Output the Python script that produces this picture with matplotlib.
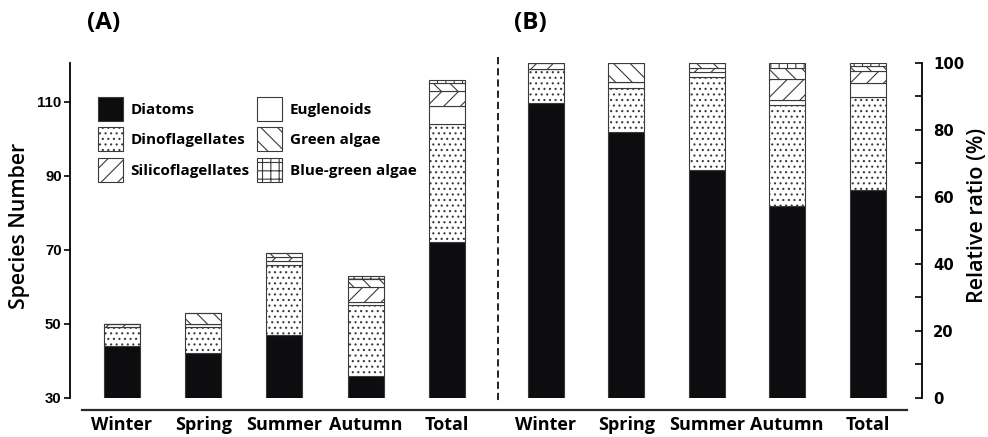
import matplotlib
matplotlib.use('Agg')
import matplotlib.pyplot as plt
import numpy as np
from matplotlib.patches import Patch
from matplotlib.lines import Line2D

# species counts per season (stacked from the bottom up)
seasons = ['Winter', 'Spring', 'Summer', 'Autumn', 'Total']
diatoms = [44, 42, 47, 36, 72]
dinoflagellates = [5, 7, 19, 19, 32]
euglenoids = [0, 1, 1, 1, 5]
silicoflagellates = [1, 0, 1, 4, 4]
green_algae = [0, 3, 1, 2, 2]
blue_green_algae = [0, 0, 0, 1, 1]

counts = np.array([diatoms, dinoflagellates, euglenoids,
                   silicoflagellates, green_algae, blue_green_algae], dtype=float)
names = ['Diatoms', 'Dinoflagellates', 'Euglenoids',
         'Silicoflagellates', 'Green algae', 'Blue-green algae']
faces = ['#0d0d10', 'white', 'white', 'white', 'white', 'white']
hatches = [None, '...', None, '//', '\\\\', '++']

ratio = counts / counts.sum(axis=0) * 100

W, H = 988, 437
plt.rcParams['hatch.linewidth'] = 0.8
TXT = 'Open Sans'

fig = plt.figure(figsize=(W / 100, H / 100), dpi=100)


def box(x0, y0, x1, y1):
    return [x0 / W, 1 - y1 / H, (x1 - x0) / W, (y1 - y0) / H]


def stack(ax, data, width):
    x = np.arange(len(seasons))
    bottom = np.zeros(len(seasons))
    for vals, face, hatch in zip(data, faces, hatches):
        ax.bar(x, vals, width, bottom=bottom, color=face, hatch=hatch,
               edgecolor='#3a3a3a', linewidth=0.8)
        bottom += vals
    ax.set_xticks(x, seasons)
    ax.tick_params(axis='x', length=0, pad=13)
    for lab in ax.get_xticklabels():
        lab.set_fontfamily(TXT)
        lab.set_fontweight('bold')
        lab.set_fontsize(13)
    for s in ['top', 'bottom']:
        ax.spines[s].set_visible(False)


# (A) species number
ax1 = fig.add_axes(box(70, 63, 498, 397.7))
stack(ax1, counts, 0.443)
ax1.set_xlim(-0.64, 4.63)
ax1.set_ylim(30, 120.5)
ax1.spines['right'].set_visible(False)
ax1.spines['left'].set_linewidth(1.3)
ax1.set_yticks([30, 50, 70, 90, 110])
ax1.tick_params(axis='y', direction='out', length=4, width=1.2, pad=2)
for lab in ax1.get_yticklabels():
    lab.set_fontfamily('Liberation Sans')
    lab.set_fontweight('bold')
    lab.set_fontsize(10.8)

# (B) relative ratio
ax2 = fig.add_axes(box(498, 62.7, 922, 397.7))
stack(ax2, ratio, 0.448)
ax2.set_xlim(-0.597, 4.677)
ax2.set_ylim(0, 100)
ax2.spines['left'].set_visible(False)
ax2.spines['right'].set_linewidth(1.3)
ax2.yaxis.tick_right()
ax2.set_yticks(range(0, 101, 20))
ax2.set_yticks(range(10, 100, 20), minor=True)
ax2.tick_params(axis='y', which='both', direction='in', length=5, width=1.2, pad=8)
for lab in ax2.get_yticklabels():
    lab.set_fontweight('bold')
    lab.set_fontsize(10.7)

# shared baseline and panel divider
fig.add_artist(Line2D([82 / W, 907 / W], [1 - 410 / H] * 2, color='#2a2a2a', lw=1.6))
fig.add_artist(Line2D([498 / W] * 2, [1 - 57 / H, 1 - 403 / H], color='#111',
                      lw=1.3, ls=(0, (4, 2.2))))

fig.text(104 / W, 1 - 23 / H, '(A)', fontsize=17.5, fontweight='bold', family=TXT,
         ha='center', va='center')
fig.text(530 / W, 1 - 23 / H, '(B)', fontsize=17.5, fontweight='bold', family=TXT,
         ha='center', va='center')
fig.text(20 / W, 1 - 226 / H, 'Species Number', rotation=90, fontsize=15.2,
         fontweight='semibold', family=TXT, ha='center', va='center')
fig.text(977 / W, 1 - 215 / H, 'Relative ratio (%)', rotation=90, fontsize=15.5,
         fontweight='semibold', family=TXT, ha='center', va='center')

# legend, column-wise
order = [0, 1, 3, 2, 4, 5]
handles = [Patch(facecolor=faces[i], hatch=hatches[i], edgecolor='#3a3a3a',
                 linewidth=0.8, label=names[i]) for i in order]
ax1.legend(handles=handles, ncol=2, loc='upper left',
           bbox_to_anchor=(98 / W, 1 - 97 / H), bbox_transform=fig.transFigure,
           frameon=False, prop={'family': TXT, 'weight': 'bold', 'size': 11},
           handlelength=1.63, handleheight=2.0, handletextpad=0.5,
           columnspacing=0.5, labelspacing=0.45, borderpad=0, borderaxespad=0)

fig.savefig('out.png', dpi=100)
